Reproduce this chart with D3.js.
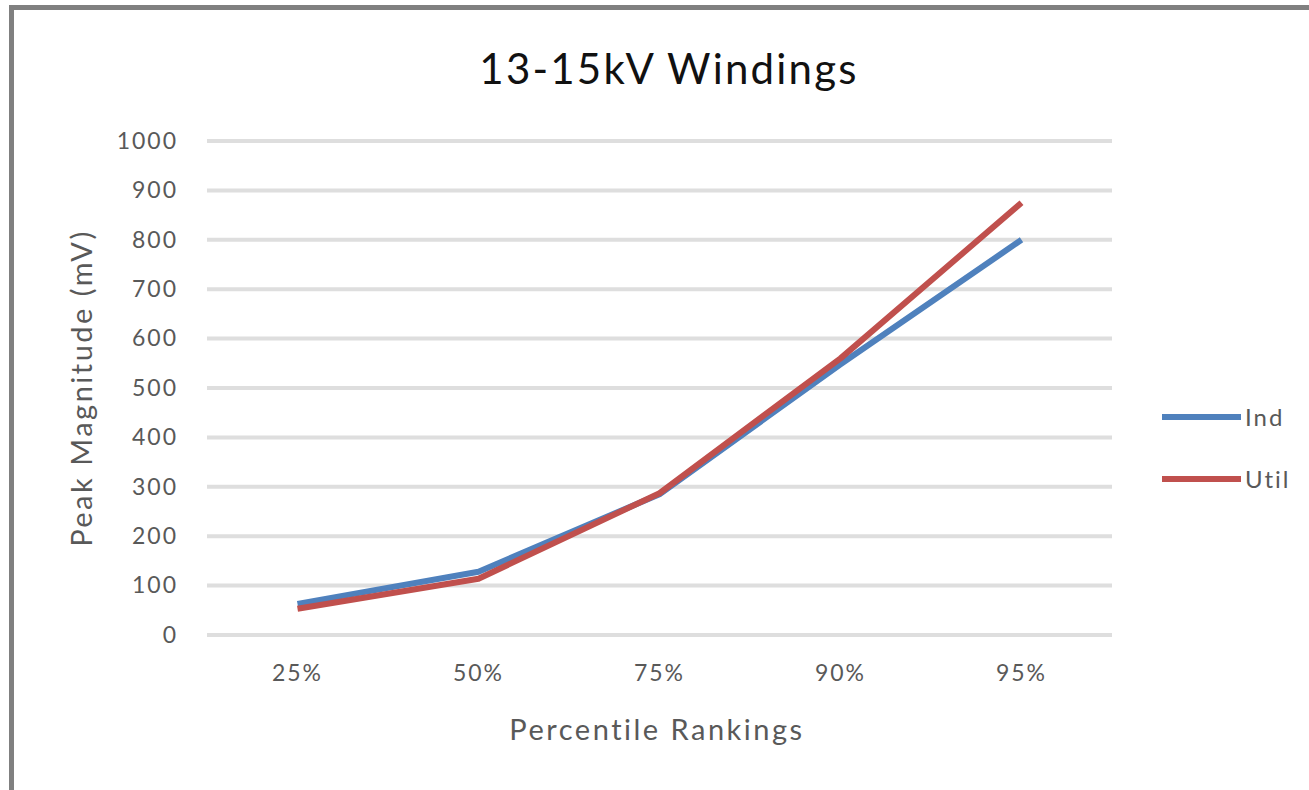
<!DOCTYPE html>
<html>
<head>
<meta charset="utf-8">
<script src="https://cdn.jsdelivr.net/npm/d3@7"></script>
<style>
  html, body { margin: 0; padding: 0; background: #fff; }
  text { font-family: Lato, "Open Sans", sans-serif; }
</style>
</head>
<body>
<svg id="chart" width="1309" height="790"></svg>
<script>
const categories = ["25%", "50%", "75%", "90%", "95%"];
const indValues = [63, 128, 285, 548, 800];
const utilValues = [53, 114, 287, 560, 875];
const yTicks = [0, 100, 200, 300, 400, 500, 600, 700, 800, 900, 1000];
const seriesNames = ["Ind", "Util"];
const seriesColors = ["#4F81BD", "#C0504D"];

(function () {
const svg = d3.select("#chart");
svg.append("rect").attr("width", 1309).attr("height", 790).attr("fill", "#fff");
// outer frame
svg.append("rect").attr("x", 11.5).attr("y", 7.5).attr("width", 1400).attr("height", 900)
  .attr("fill", "none").attr("stroke", "#808080").attr("stroke-width", 5);

const pLeft = 207, pRight = 1112, pTop = 141, pBottom = 635;
const x = d3.scaleBand().domain(categories).range([pLeft, pRight]);
const y = d3.scaleLinear().domain([0, 1000]).range([pBottom, pTop]);

// gridlines
svg.append("g").selectAll("line").data(yTicks).join("line")
  .attr("x1", pLeft).attr("x2", pRight)
  .attr("y1", d => y(d)).attr("y2", d => y(d))
  .attr("stroke", "#dedede").attr("stroke-width", 4);

// y axis
const yAxis = svg.append("g").attr("transform", `translate(${pLeft},0)`)
  .call(d3.axisLeft(y).tickValues(yTicks).tickFormat(d3.format("d")).tickSize(0).tickPadding(29));
yAxis.select(".domain").remove();
yAxis.selectAll("text").attr("font-size", 23).attr("fill", "#595959")
  .attr("font-family", "Lato").style("letter-spacing", "2px");

// x axis
const xAxis = svg.append("g").attr("transform", `translate(0,${pBottom})`)
  .call(d3.axisBottom(x).tickSize(0).tickPadding(30));
xAxis.select(".domain").remove();
xAxis.selectAll("text").attr("font-size", 23).attr("fill", "#595959")
  .attr("font-family", "Lato").style("letter-spacing", "2px");

// lines
const line = d3.line().x((d, i) => x(categories[i]) + x.bandwidth() / 2).y(d => y(d));
[indValues, utilValues].forEach((vals, k) => {
  svg.append("path").datum(vals).attr("d", line)
    .attr("fill", "none").attr("stroke", seriesColors[k])
    .attr("stroke-width", 6).attr("stroke-linejoin", "round");
});

// title
svg.append("text").attr("x", 669).attr("y", 84).attr("text-anchor", "middle")
  .attr("font-size", 42).attr("fill", "#111").style("letter-spacing", "2.2px")
  .text("13-15kV Windings");

// axis titles
svg.append("text").attr("x", 657).attr("y", 740).attr("text-anchor", "middle")
  .attr("font-size", 29).attr("fill", "#595959").style("letter-spacing", "2.5px")
  .text("Percentile Rankings");
svg.append("text").attr("transform", `translate(92,${(pTop + pBottom) / 2}) rotate(-90)`)
  .attr("text-anchor", "middle").attr("font-size", 29).attr("fill", "#595959")
  .style("letter-spacing", "2.5px")
  .text("Peak Magnitude (mV)");

// legend
const legendY = [417, 479];
seriesNames.forEach((name, k) => {
  svg.append("line").attr("x1", 1162).attr("x2", 1241)
    .attr("y1", legendY[k]).attr("y2", legendY[k])
    .attr("stroke", seriesColors[k]).attr("stroke-width", 6);
  svg.append("text").attr("x", 1245).attr("y", legendY[k] + 9)
    .attr("font-size", 24).attr("fill", "#595959").style("letter-spacing", "2px")
    .text(name);
});
})();
</script>
</body>
</html>
